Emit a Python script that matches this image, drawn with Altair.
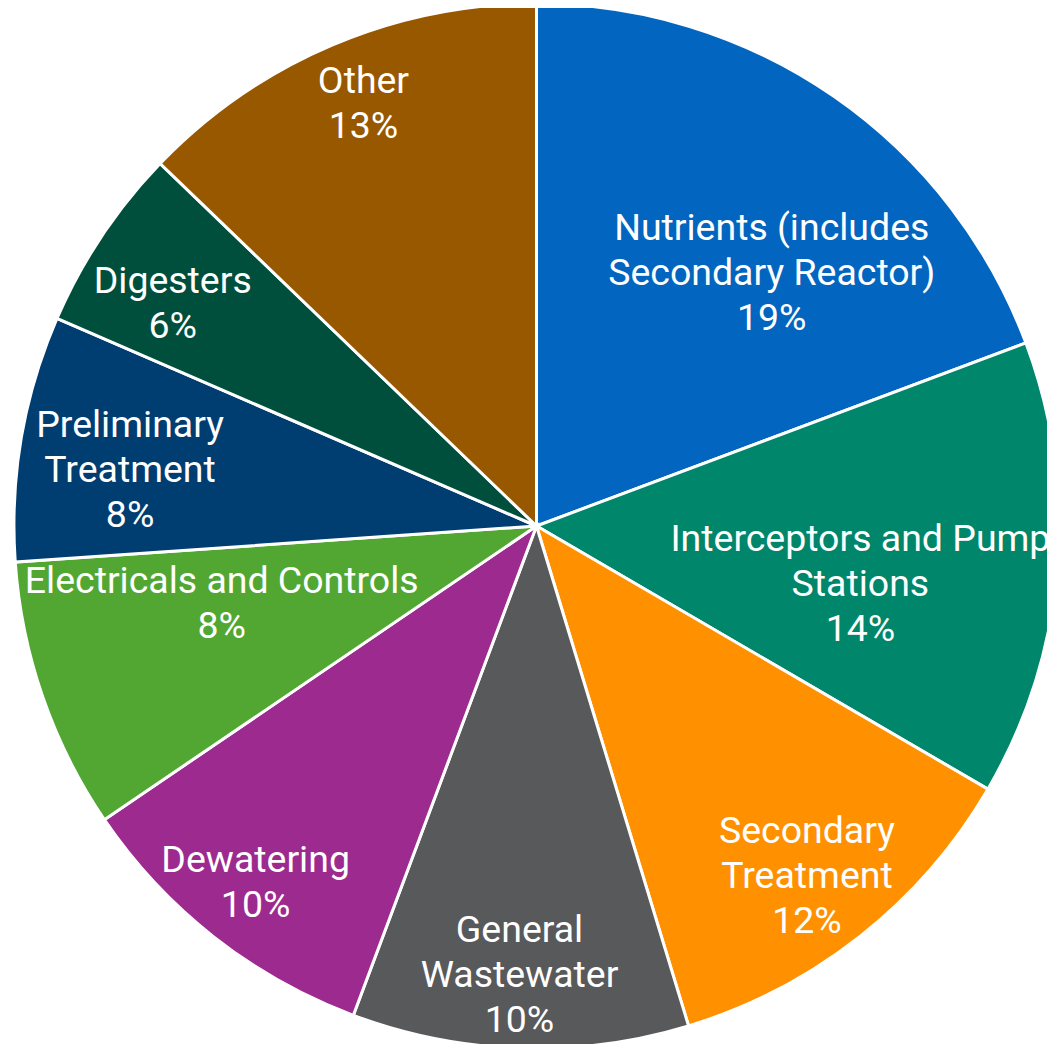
import altair as alt
import pandas as pd

categories = [
    "Nutrients (includes\nSecondary Reactor)",
    "Interceptors and Pump\nStations",
    "Secondary\nTreatment",
    "General\nWastewater",
    "Dewatering",
    "Electricals and Controls",
    "Preliminary\nTreatment",
    "Digesters",
    "Other",
]
values = [19.3, 14.1, 11.9, 10.4, 9.8, 8.4, 7.6, 5.7, 12.8]
colors = ["#0265BF", "#00866B", "#FF9100", "#58595B", "#9C2A8F",
          "#52A733", "#003D71", "#004F3D", "#975800"]
# label placement: distance from centre (fraction of pie radius) and
# small angular nudge from the slice midpoint (in value units)
label_radius = [0.660, 0.630, 0.848, 0.862, 0.870, 0.621, 0.785, 0.815, 0.872]
label_nudge = [2.3, 1.5, 0.2, 0.1, 0.0, 1.4, -0.55, -0.65, 0.2]

df = pd.DataFrame({
    "category": categories,
    "value": values,
    "order": list(range(len(categories))),
    "lr": label_radius,
    "nudge": label_nudge,
})
df["label"] = [f"{c}\n{round(v)}%" for c, v in zip(categories, values)]
df["nlines"] = df["label"].str.count("\n") + 1

CX, CY, R = 529, 518, 523
LH = 45

pie = alt.Chart(df).mark_arc(stroke="white", strokeWidth=3).encode(
    theta=alt.Theta("value:Q", stack=True),
    order=alt.Order("order:Q"),
    color=alt.Color("category:N", scale=alt.Scale(domain=categories, range=colors), legend=None),
    x=alt.value(CX),
    y=alt.value(CY),
    radius=alt.value(R),
)

text_base = alt.Chart(df).transform_window(
    cum="sum(value)", sort=[alt.SortField("order")], frame=[None, 0]
).transform_calculate(
    mid="datum.cum - datum.value / 2 + datum.nudge"
).encode(
    theta=alt.Theta("mid:Q", stack=None),
    radius=alt.Radius("lr:Q", stack=None, scale=alt.Scale(domain=[0, 1], range=[0, R])),
    text="label:N",
    x=alt.value(CX),
    y=alt.value(CY),
)

text_layers = []
for n in sorted(df["nlines"].unique()):
    text_layers.append(
        text_base.transform_filter(f"datum.nlines == {int(n)}").mark_text(
            font="Roboto", fontSize=37.5, color="white", lineBreak="\n",
            lineHeight=LH, align="center", baseline="middle",
            dy=-(int(n) - 1) * LH / 2,
        )
    )

chart = alt.layer(pie, *text_layers).properties(
    width=1040, height=1036,
    autosize=alt.AutoSizeParams(type="none"),
    padding=0,
).configure_view(stroke=None)

chart.save("out.html", embed_options={"renderer": "svg", "actions": False})
